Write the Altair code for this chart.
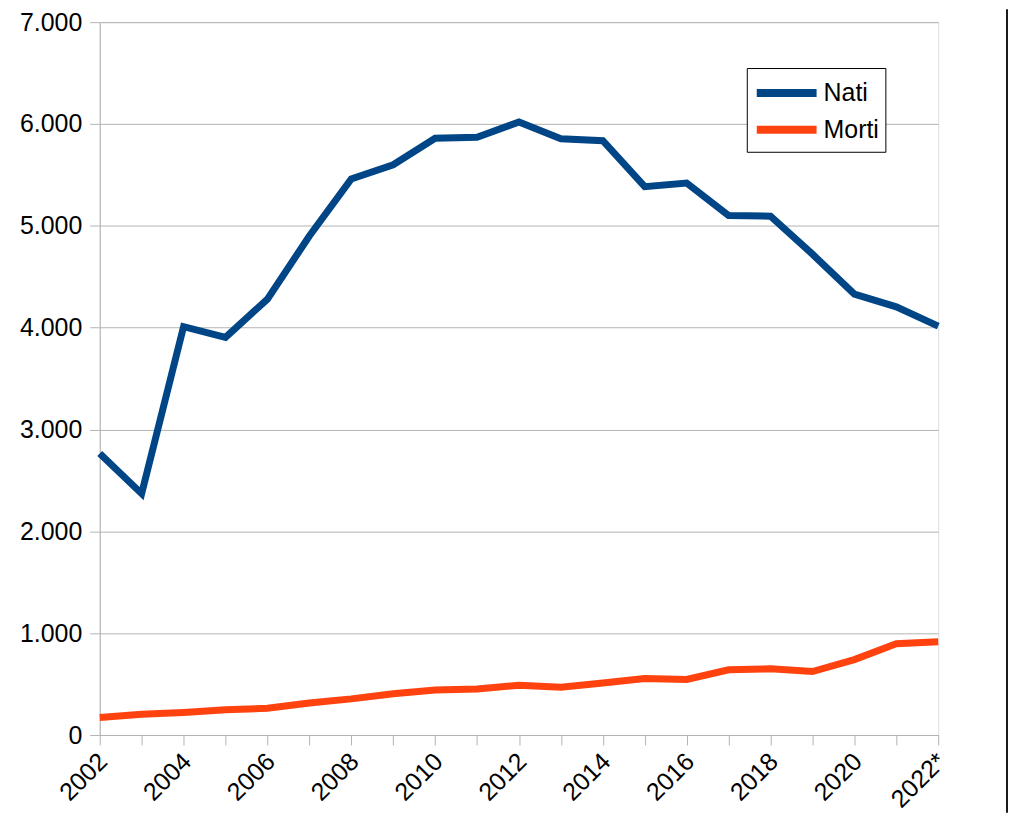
import altair as alt
import pandas as pd

years = ["2002", "2003", "2004", "2005", "2006", "2007", "2008", "2009", "2010",
         "2011", "2012", "2013", "2014", "2015", "2016", "2017", "2018", "2019",
         "2020", "2021", "2022*"]
nati = [2765, 2370, 4010, 3905, 4280, 4900, 5460, 5600, 5860, 5870, 6020, 5855,
        5836, 5385, 5420, 5102, 5095, 4722, 4330, 4205, 4015]
morti = [172, 205, 222, 248, 263, 315, 355, 405, 442, 452, 488, 470, 510, 555,
         546, 640, 650, 624, 741, 897, 916]
series = ["Nati", "Morti"]
colors = ["#004586", "#ff420e"]
y_ticks = [0, 1000, 2000, 3000, 4000, 5000, 6000, 7000]

rows = []
for i, yr in enumerate(years):
    rows.append({"anno": yr, "serie": "Nati", "valore": nati[i]})
    rows.append({"anno": yr, "serie": "Morti", "valore": morti[i]})
df = pd.DataFrame(rows)

FONT = "Liberation Sans"
TOP = 13
W, H = 841, 736 - 8 - TOP

lines = alt.Chart(df).mark_line(strokeWidth=7, strokeJoin="miter", strokeCap="butt").encode(
    x=alt.X("anno:O", sort=years,
            scale=alt.Scale(type="point", padding=0),
            axis=alt.Axis(title=None, labelAngle=-45, labelAlign="right",
                          labelBaseline="middle", labelPadding=12, labelOffset=3,
                          labelExpr="(datum.label == '2022*' || toNumber(datum.label) % 2 == 0) ? datum.label : ''",
                          tickSize=10, tickColor="#b3b3b3", domainColor="#b3b3b3",
                          labelFont=FONT, labelFontSize=25, labelColor="#000000",
                          labelOverlap=False, grid=False)),
    y=alt.Y("valore:Q", scale=alt.Scale(domain=[0, 7000], nice=False),
            axis=alt.Axis(title=None, values=y_ticks, tickSize=10,
                          tickColor="#b3b3b3", domainColor="#b3b3b3",
                          gridColor="#b3b3b3", labelPadding=8,
                          labelExpr="replace(format(datum.value, ','), ',', '.')",
                          labelFont=FONT, labelFontSize=25, labelColor="#000000")),
    color=alt.Color("serie:N", sort=series,
                    scale=alt.Scale(domain=series, range=colors),
                    legend=alt.Legend(title=None, orient="none", legendX=649, legendY=46,
                                      symbolType="M-1,0H3", symbolSize=900,
                                      symbolStrokeWidth=8, labelFont=FONT,
                                      labelFontSize=25, labelColor="#000000",
                                      labelOffset=33, strokeColor="#000000",
                                      fillColor="#ffffff", padding=6,
                                      rowPadding=2)),
)

border = alt.Chart(pd.DataFrame({"k": [0]})).mark_rule(color="#1a1a1a", strokeWidth=2).encode(
    x=alt.value(910), y=alt.value(-TOP), y2=alt.value(H + 78)
)

chart = alt.layer(lines, border).properties(
    width=W, height=H,
    autosize=alt.AutoSizeParams(type="none"),
    padding={"left": 92, "top": TOP, "right": 72, "bottom": 78},
).configure_view(stroke="#b3b3b3", strokeWidth=1).configure(background="#ffffff")

chart.save("out.html", embed_options={"renderer": "svg", "actions": False})
